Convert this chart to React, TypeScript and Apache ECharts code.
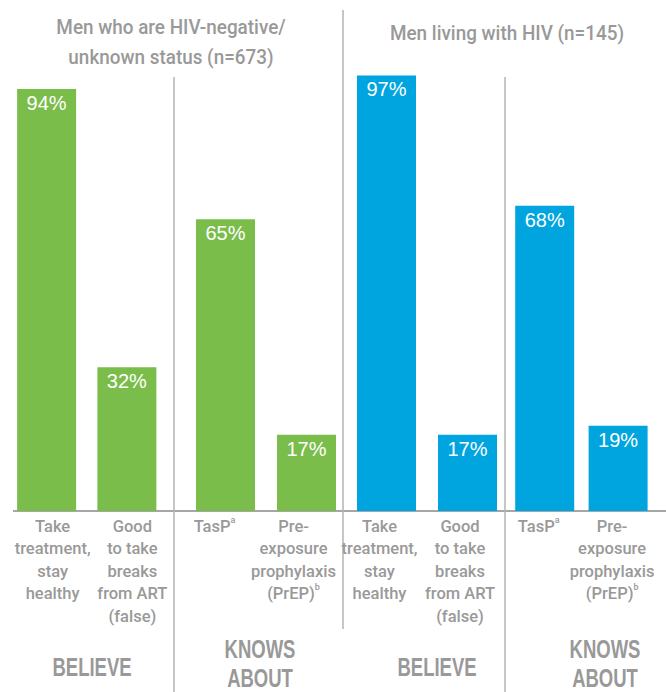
import React, { useEffect, useRef } from "react";
import * as echarts from "echarts";

const groupTitles = ["Men who are HIV-negative/\nunknown status (n=673)", "Men living with HIV (n=145)"];
const sectionLabels = ["BELIEVE", "KNOWS\nABOUT"];
const believeCategories = ["Take\ntreatment,\nstay\nhealthy", "Good\nto take\nbreaks\nfrom ART\n(false)"];
const knowsCategories = ["TasP{sup|a}", "Pre-\nexposure\nprophylaxis\n(PrEP){sup|b}"];
const negBelieve = [94, 32];
const negKnows = [65, 17];
const posBelieve = [97, 17];
const posKnows = [68, 19];

const GREEN = "#7abd4b";
const BLUE = "#00a5df";
const GRAY = "#999999";
const LABEL_FONT = "Roboto, 'Liberation Sans', sans-serif";
const HEAD_FONT = "'Liberation Sans', Arial, sans-serif";

export default function App() {
  const ref = useRef<HTMLDivElement>(null);
  useEffect(() => {
    if (!ref.current) return;
    const chart = echarts.init(ref.current, undefined, { renderer: "svg" });
    const grids = [
      { left: 5, width: 162 },
      { left: 185, width: 162 },
      { left: 346, width: 162 },
      { left: 508, width: 161 },
    ].map((g) => ({ ...g, top: 62, height: 449 }));
    const cats = [believeCategories, knowsCategories, believeCategories, knowsCategories];
    const vals = [negBelieve, negKnows, posBelieve, posKnows];
    const colors = [GREEN, GREEN, BLUE, BLUE];
    const pads = [
      [[0, 0, 0, 12], [0, 0, 0, 11]],
      [[0, 22, 0, 0], [0, 26, 0, 0]],
      [[0, 14, 0, 0], [0, 15, 0, 0]],
      [[0, 12, 0, 0], [0, 12, 0, 0]],
    ];
    const rich = {
      sup: { fontSize: 9, fontWeight: 500, fontFamily: LABEL_FONT, color: GRAY, verticalAlign: "top", lineHeight: 16 },
    };
    const xAxis = cats.map((c, i) => ({
      type: "category",
      gridIndex: i,
      data: c.map((name, j) => ({ value: name, textStyle: { padding: pads[i][j] } })),
      axisLine: { show: false },
      axisTick: { show: false },
      axisLabel: {
        interval: 0,
        margin: 4,
        color: GRAY,
        fontFamily: LABEL_FONT,
        fontWeight: 500,
        fontSize: 16.5,
        lineHeight: 22.5,
        rich,
      },
    }));
    const yAxis = cats.map((_, i) => ({
      type: "value",
      gridIndex: i,
      min: 0,
      max: 100,
      show: false,
      splitLine: { show: false },
    }));
    const series = vals.map((v, i) => ({
      type: "bar",
      xAxisIndex: i,
      yAxisIndex: i,
      data: v,
      barWidth: 59,
      itemStyle: { color: colors[i] },
      label: {
        show: true,
        position: "insideTop",
        distance: 4,
        formatter: "{c}%",
        color: "#ffffff",
        fontFamily: "'Liberation Sans', Arial, sans-serif",
        fontSize: 20,
      },
    }));
    const lineStyle = { stroke: "#b3b3b3", lineWidth: 1.5 };
    const headText = (x: number, y: number, text: string, font: string, lh: number, sx: number) => ({
      type: "text",
      x,
      y,
      scaleX: sx,
      style: {
        text,
        fill: GRAY,
        font,
        lineHeight: lh,
        textAlign: "center",
        textVerticalAlign: "middle",
      },
    });
    const titleFont = `500 21px ${LABEL_FONT}`;
    const sectionFont = `bold 25px ${HEAD_FONT}`;
    const graphic = [
      { type: "line", shape: { x1: 13, y1: 511, x2: 666, y2: 511 }, style: { stroke: "#a6a6a6", lineWidth: 2 } },
      { type: "line", shape: { x1: 174, y1: 77, x2: 174, y2: 692 }, style: lineStyle },
      { type: "line", shape: { x1: 343, y1: 10, x2: 343, y2: 629 }, style: lineStyle },
      { type: "line", shape: { x1: 505, y1: 77, x2: 505, y2: 692 }, style: lineStyle },
      headText(171, 42, groupTitles[0], titleFont, 30, 0.9),
      headText(507, 33, groupTitles[1], titleFont, 30, 0.9),
      headText(92, 667, sectionLabels[0], sectionFont, 30, 0.74),
      headText(260, 664, sectionLabels[1], sectionFont, 29, 0.74),
      headText(437, 667, sectionLabels[0], sectionFont, 30, 0.74),
      headText(605, 664, sectionLabels[1], sectionFont, 29, 0.74),
    ];
    chart.setOption({
      animation: false,
      grid: grids,
      xAxis,
      yAxis,
      series,
      graphic,
    });
    return () => chart.dispose();
  }, []);
  return <div ref={ref} style={{ width: 666, height: 692, position: "absolute", left: 0, top: 0 }} />;
}
